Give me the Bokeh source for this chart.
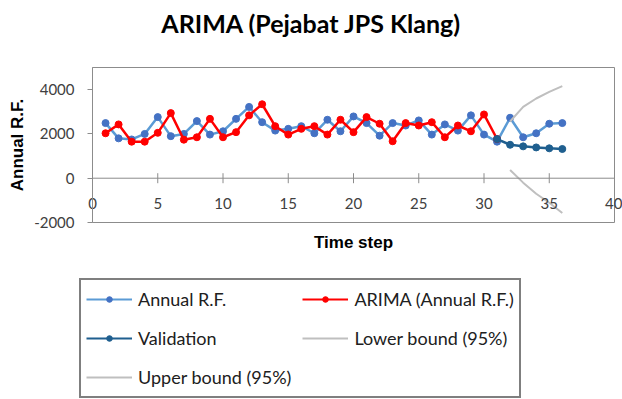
import math
from bokeh.plotting import figure
from bokeh.layouts import column
from bokeh.models import (Range1d, FixedTicker, Legend, LegendItem, Span, Label)
from bokeh.embed import file_html
from bokeh.resources import INLINE

# ---- data ----
steps = list(range(1, 37))
annual_rf = [2490, 1800, 1750, 2000, 2760, 1900, 2000, 2580, 1970, 2120,
             2680, 3220, 2530, 2150, 2230, 2350, 2030, 2640, 2120, 2790,
             2490, 1920, 2490, 2380, 2610, 1970, 2430, 2150, 2840, 1970,
             1650, 2730, 1850, 2030, 2460, 2490]

arima_steps = list(range(1, 32))
arima = [2030, 2430, 1650, 1650, 2050, 2940, 1740, 1850, 2680, 1850,
         2080, 2840, 3340, 2350, 1970, 2230, 2350, 1970, 2640, 2080,
         2760, 2460, 1670, 2490, 2380, 2530, 1850, 2380, 2120, 2880,
         1770]

validation_steps = [31, 32, 33, 34, 35, 36]
validation = [1770, 1510, 1440, 1390, 1350, 1320]

bound_steps = [32, 33, 34, 35, 36]
upper_bound = [2560, 3220, 3600, 3900, 4160]
lower_bound = [375, -200, -700, -1110, -1570]

x_ticks = [0, 5, 10, 15, 20, 25, 30, 35, 40]
y_ticks = [-2000, 0, 2000, 4000]

chart_title = "ARIMA (Pejabat JPS Klang)"
series_labels = ["Annual R.F.", "ARIMA (Annual R.F.)", "Validation",
                 "Lower bound (95%)", "Upper bound (95%)"]

AXIS_GRAY = "#8c8c8c"
TICK_FONT = "Lato"
TICK_COLOR = "#404040"
BLUE_LINE, BLUE_DOT = "#5B9BD5", "#4472C4"
RED = "#FF0000"
DARK_BLUE = "#1F5F8F"
GRAY = "#BFBFBF"


def bare_figure(height):
    f = figure(width=622, height=height, output_backend="svg",
               toolbar_location=None, x_range=Range1d(0, 1),
               y_range=Range1d(0, 1), min_border_left=0, min_border_right=0,
               min_border_top=0, min_border_bottom=0,
               x_axis_location=None, y_axis_location=None, title=None)
    f.frame_align = False
    f.outline_line_color = None
    f.xgrid.visible = False
    f.ygrid.visible = False
    f.background_fill_color = "white"
    f.border_fill_color = "white"
    return f


# ---------------- title strip ----------------
tf = bare_figure(45)
tf.add_layout(Label(x=311, y=23, x_units="screen", y_units="screen",
                    text=chart_title, text_align="center",
                    text_baseline="alphabetic", text_font=TICK_FONT,
                    text_font_style="bold", text_font_size="25px",
                    text_color="#000000"))

# ---------------- chart ----------------
p = figure(width=622, height=215, output_backend="svg", toolbar_location=None,
           x_range=Range1d(0, 40), y_range=Range1d(-2000, 5000), title=None,
           min_border_left=92, min_border_right=8, min_border_top=22,
           min_border_bottom=38)
p.frame_align = False
p.background_fill_color = "white"
p.border_fill_color = "white"
p.outline_line_color = AXIS_GRAY
p.outline_line_width = 1
p.xgrid.visible = False
p.ygrid.visible = False

p.yaxis.ticker = FixedTicker(ticks=y_ticks)
p.yaxis.major_label_overrides = {v: str(v) for v in y_ticks}
p.yaxis.axis_line_color = AXIS_GRAY
p.yaxis.major_tick_line_color = AXIS_GRAY
p.yaxis.major_tick_out = 5
p.yaxis.major_tick_in = 0
p.yaxis.minor_tick_line_color = None
p.yaxis.major_label_text_font = TICK_FONT
p.yaxis.major_label_text_font_size = "15px"
p.yaxis.major_label_text_color = TICK_COLOR
p.yaxis.major_label_standoff = 13
p.yaxis.axis_label = "Annual R.F."
p.yaxis.axis_label_text_font = "Liberation Sans"
p.yaxis.axis_label_text_font_style = "bold"
p.yaxis.axis_label_text_font_size = "17px"
p.yaxis.axis_label_text_color = "#000000"
p.yaxis.axis_label_standoff = 4

# bottom axis: tick labels lifted up to sit under the zero line
p.xaxis.ticker = FixedTicker(ticks=x_ticks)
p.xaxis.axis_line_color = None
p.xaxis.major_tick_line_color = None
p.xaxis.minor_tick_line_color = None
p.xaxis.major_tick_out = 0
p.xaxis.major_tick_in = 0
p.xaxis.major_label_standoff = -25
p.xaxis.major_label_text_font = TICK_FONT
p.xaxis.major_label_text_font_size = "15px"
p.xaxis.major_label_text_color = TICK_COLOR
p.xaxis.axis_label = "Time step"
p.xaxis.axis_label_text_font = "Liberation Sans"
p.xaxis.axis_label_text_font_style = "bold"
p.xaxis.axis_label_text_font_size = "17px"
p.xaxis.axis_label_text_color = "#000000"
p.xaxis.axis_label_standoff = 21

# horizontal axis line crossing at zero, with cross ticks
p.add_layout(Span(location=0, dimension="width", line_color=AXIS_GRAY,
                  line_width=1))
p.scatter(x=x_ticks[1:], y=[0] * (len(x_ticks) - 1), marker="dash",
          angle=math.pi / 2, size=10, line_color=AXIS_GRAY, line_width=1)

p.line(steps, annual_rf, line_color=BLUE_LINE, line_width=2.5)
p.scatter(steps, annual_rf, size=7, fill_color=BLUE_DOT, line_color=BLUE_DOT)
p.line(arima_steps, arima, line_color=RED, line_width=2.5)
p.scatter(arima_steps, arima, size=7, fill_color=RED, line_color=RED)
p.line(validation_steps, validation, line_color=DARK_BLUE, line_width=2.5)
p.scatter(validation_steps, validation, size=7, fill_color=DARK_BLUE,
          line_color=DARK_BLUE)
p.line(bound_steps, upper_bound, line_color=GRAY, line_width=2)
p.line(bound_steps, lower_bound, line_color=GRAY, line_width=2)

# ---------------- legend strip ----------------
lg = bare_figure(139)


def key(xs, ys, line_color, dot_color=None, width=2):
    rs = [lg.line(xs, ys, line_color=line_color, line_width=width,
                  visible=False)]
    if dot_color is not None:
        rs.append(lg.scatter(xs, ys, fill_color=dot_color,
                             line_color=dot_color, visible=False))
    return rs


keys = [key(steps, annual_rf, BLUE_LINE, BLUE_DOT),
        key(arima_steps, arima, RED, RED),
        key(validation_steps, validation, DARK_BLUE, DARK_BLUE),
        key(bound_steps, lower_bound, GRAY),
        key(bound_steps, upper_bound, GRAY)]

legend = Legend(items=[LegendItem(label=lab, renderers=r)
                       for lab, r in zip(series_labels, keys)],
                ncols=2, orientation="horizontal", location=(79, 1))
legend.border_line_color = "#000000"
legend.border_line_width = 2
legend.background_fill_color = "white"
legend.background_fill_alpha = 1
legend.inactive_fill_alpha = 0
legend.label_text_font = TICK_FONT
legend.label_text_font_size = "18px"
legend.label_text_color = "#202020"
legend.glyph_width = 46
legend.glyph_height = 14
legend.label_height = 28
legend.label_width = 153
legend.label_standoff = 6
legend.spacing = 11
legend.padding = 5
legend.margin = 0
lg.add_layout(legend, "center")

layout = column(tf, p, lg, spacing=0)
open("out.html", "w").write(file_html(layout, INLINE))
